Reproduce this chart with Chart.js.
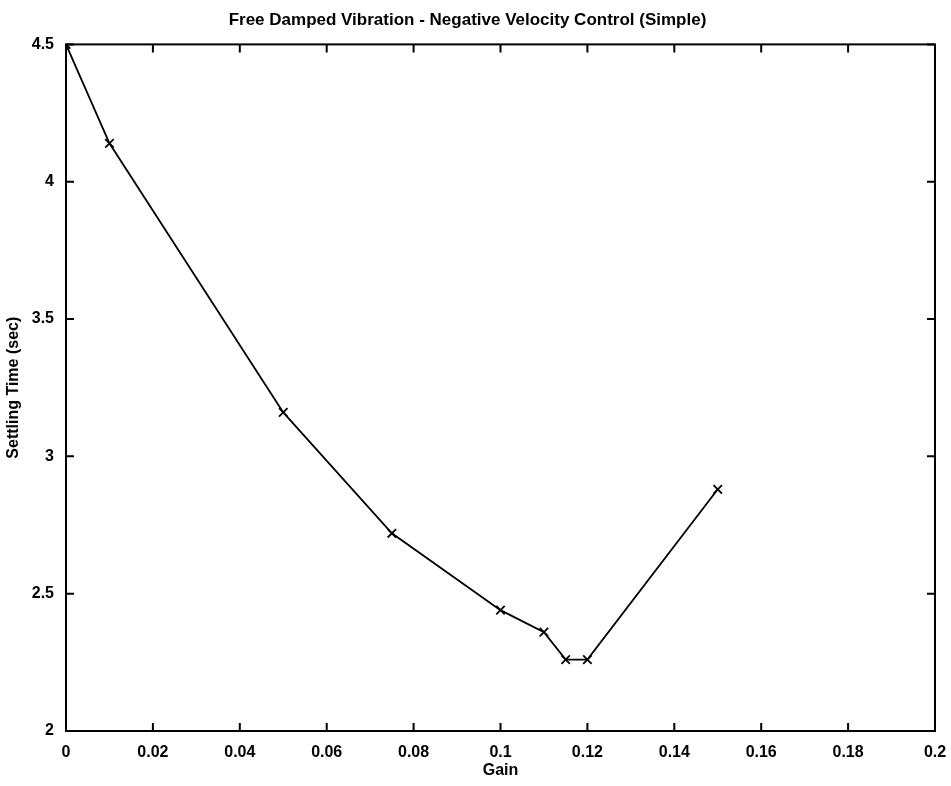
<!DOCTYPE html>
<html>
<head>
<meta charset="utf-8">
<script src="https://cdn.jsdelivr.net/npm/chart.js@4"></script>
<style>
  body { margin: 0; background: #fff; }
  canvas { display: block; }
</style>
</head>
<body>
<canvas id="chart" width="951" height="786"></canvas>
<script>
"use strict";
const gain = [0, 0.01, 0.05, 0.075, 0.1, 0.11, 0.115, 0.12, 0.15];
const settlingTime = [4.5, 4.14, 3.16, 2.72, 2.44, 2.36, 2.26, 2.26, 2.88];
const xTicks = [0, 0.02, 0.04, 0.06, 0.08, 0.1, 0.12, 0.14, 0.16, 0.18, 0.2];
const yTicks = [2, 2.5, 3, 3.5, 4, 4.5];

const fontFamily = "'Liberation Sans', Arial, sans-serif";
Chart.defaults.color = '#000';
Chart.defaults.font.family = fontFamily;

// matlab style box with inward ticks on every side
const boxTicks = {
    id: 'boxTicks',
    afterDatasetsDraw(chart) {
        const { ctx, chartArea: a, scales } = chart;
        const len = 8;
        ctx.save();
        ctx.strokeStyle = '#000';
        ctx.lineWidth = 2;
        ctx.strokeRect(a.left, a.top, a.right - a.left, a.bottom - a.top);
        ctx.beginPath();
        scales.x.ticks.forEach(t => {
            const px = scales.x.getPixelForValue(t.value);
            ctx.moveTo(px, a.bottom); ctx.lineTo(px, a.bottom - len);
            ctx.moveTo(px, a.top); ctx.lineTo(px, a.top + len);
        });
        scales.y.ticks.forEach(t => {
            const py = scales.y.getPixelForValue(t.value);
            ctx.moveTo(a.left, py); ctx.lineTo(a.left + len, py);
            ctx.moveTo(a.right, py); ctx.lineTo(a.right - len, py);
        });
        ctx.stroke();
        ctx.restore();
    }
};

const ctx = document.getElementById('chart').getContext('2d');
new Chart(ctx, {
    type: 'scatter',
    data: {
        datasets: [{
            data: gain.map((g, i) => ({ x: g, y: settlingTime[i] })),
            showLine: true,
            borderColor: '#000',
            borderWidth: 1.8,
            tension: 0,
            pointStyle: 'crossRot',
            pointRadius: 6,
            pointBorderWidth: 1.8,
            pointBorderColor: '#000',
            pointBackgroundColor: '#000'
        }]
    },
    options: {
        responsive: false,
        animation: false,
        layout: {
            padding: { top: 1, right: 16, left: 0, bottom: 0 }
        },
        plugins: {
            legend: { display: false },
            tooltip: { enabled: false },
            title: {
                display: true,
                text: 'Free Damped Vibration - Negative Velocity Control (Simple)',
                font: { size: 17, weight: 'bold', family: fontFamily },
                padding: { top: 9, bottom: 14 }
            }
        },
        scales: {
            x: {
                type: 'linear',
                min: 0,
                max: 0.2,
                afterBuildTicks: scale => { scale.ticks = xTicks.map(v => ({ value: v })); },
                afterFit: scale => { scale.height = 55; },
                grid: { display: false },
                border: { display: false },
                ticks: {
                    padding: 4,
                    maxRotation: 0,
                    autoSkip: false,
                    font: { size: 16, weight: 'bold' },
                    callback: v => String(Number(v.toFixed(3)))
                },
                title: {
                    display: true,
                    text: 'Gain',
                    font: { size: 16, weight: 'bold' },
                    padding: { top: 0, bottom: 6 }
                }
            },
            y: {
                type: 'linear',
                min: 2,
                max: 4.5,
                afterBuildTicks: scale => { scale.ticks = yTicks.map(v => ({ value: v })); },
                afterFit: scale => { scale.width = 66; },
                grid: { display: false },
                border: { display: false },
                ticks: {
                    padding: 4,
                    autoSkip: false,
                    font: { size: 16, weight: 'bold' },
                    callback: v => String(v)
                },
                title: {
                    display: true,
                    text: 'Settling Time (sec)',
                    font: { size: 16, weight: 'bold' },
                    padding: { top: 4, bottom: 0 }
                }
            }
        }
    },
    plugins: [boxTicks]
});
</script>
</body>
</html>
